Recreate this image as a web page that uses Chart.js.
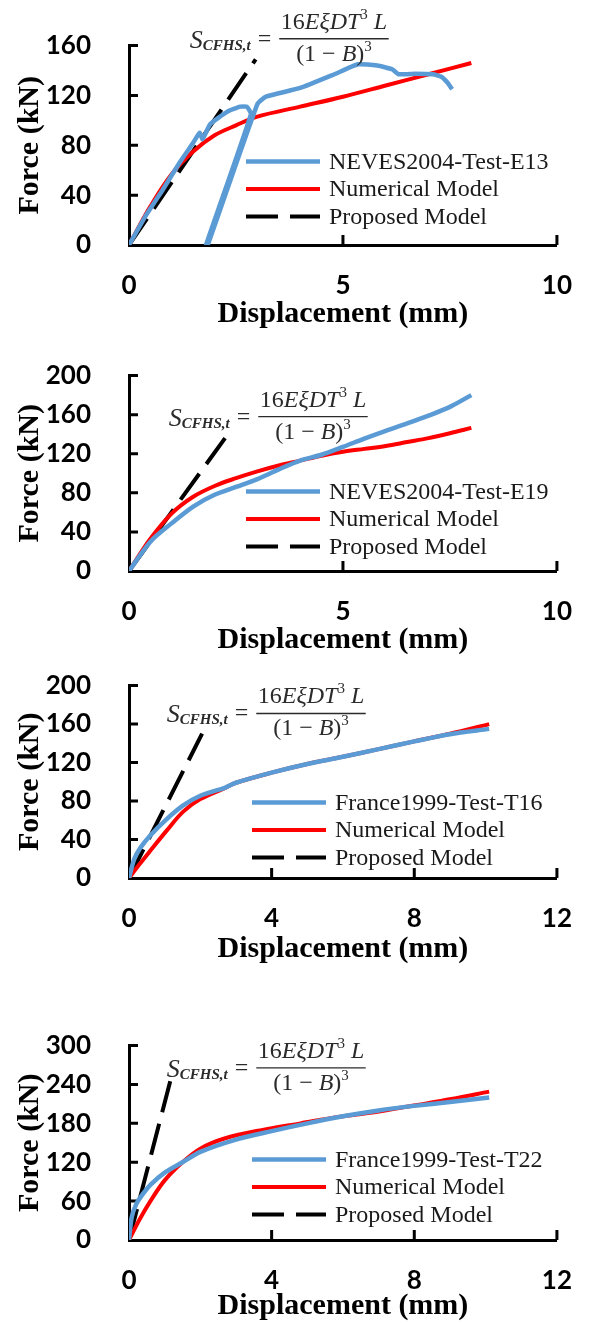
<!DOCTYPE html>
<html>
<head>
<meta charset="utf-8">
<script src="https://cdn.jsdelivr.net/npm/chart.js@4.4.0/dist/chart.umd.min.js"></script>
<style>
    body { margin: 0; background: #fff; width: 589px; height: 1327px; position: relative; overflow: hidden; }
    .painel { position: absolute; left: 0; width: 589px; }
</style>
</head>
<body>
<div class="painel" id="p1"><canvas id="c1"></canvas></div>
<div class="painel" id="p2"><canvas id="c2"></canvas></div>
<div class="painel" id="p3"><canvas id="c3"></canvas></div>
<div class="painel" id="p4"><canvas id="c4"></canvas></div>
<script>
// --- Dados ---
// Painel 1: NEVES2004 - E13
const e13X = [0, 0.4, 0.8, 1.2, 1.5, 1.65, 1.72, 1.9, 2.3, 2.6, 2.75, 2.85, 1.8, 1.84, 3.0, 3.2, 4.0, 4.8, 5.35, 5.8, 6.15, 6.3, 6.7, 7.1, 7.3, 7.45, 7.55];
const e13Y = [0, 24, 45, 67, 82, 90, 85, 97, 107, 111, 111, 105, 0, 0, 113, 119, 126, 137, 145, 144, 141, 137, 137.5, 137, 135, 130, 125];
const num1X = [0, 0.5, 1, 1.5, 2, 2.5, 3, 4, 5, 6, 7, 8];
const num1Y = [0, 31, 57, 75, 88, 96, 103, 111, 119, 128, 137, 146];
const prop1X = [0, 2.96];
const prop1Y = [0, 149];

// Painel 2: NEVES2004 - E19
const e19X = [0, 0.5, 1, 1.5, 2, 2.5, 3, 3.5, 4, 4.5, 5, 5.5, 6, 6.5, 7, 7.5, 8];
const e19Y = [0, 30, 49, 66, 78, 86, 94, 104, 113, 119, 127, 135.5, 143.5, 151, 159, 168, 180];
const num2X = [0, 0.5, 1, 1.5, 2, 2.5, 3, 3.5, 4, 4.5, 5, 5.5, 6, 6.5, 7, 7.5, 8];
const num2Y = [0, 33, 59, 76, 87, 95, 102, 108, 113, 118, 122, 125, 128, 132, 136, 141, 146.5];
const prop2X = [0, 2.36];
const prop2Y = [0, 143];

// Painel 3: France1999 - T16
const t16X = [0, 0.15, 0.31, 0.59, 1.05, 1.52, 2, 2.7, 3, 4, 5, 6, 7, 8, 9, 10.1];
const t16Y = [0, 20, 31, 44, 61, 75.5, 85.5, 94, 99, 109.5, 118.5, 126, 134, 142, 149.5, 155];
const num3X = [0, 0.31, 0.59, 1.05, 1.52, 2, 2.7, 3, 4, 5, 6, 7, 8, 9, 10.1];
const num3Y = [0, 15, 28, 49, 69, 82, 93.7, 99, 109.5, 118.5, 126, 134, 142, 150, 160];
const prop3X = [0, 2.05];
const prop3Y = [0, 150];

// Painel 4: France1999 - T22
const t22X = [0, 0.075, 0.2, 0.35, 0.6, 1.0, 1.5, 2, 3, 4, 5, 6, 7, 8, 9, 10.1];
const t22Y = [0, 35, 55, 68, 85, 104, 120, 136, 155, 168, 180, 191, 200, 207, 213, 220];
const num4X = [0, 0.3, 0.6, 1.0, 1.5, 2, 2.7, 3.75, 4.81, 5.87, 6.92, 7.98, 9.04, 10.1];
const num4Y = [0, 32, 60, 92, 120, 141, 157, 170, 180, 190, 197.5, 207.5, 217.5, 229];
const prop4X = [0, 1.18];
const prop4Y = [0, 250];

const BLUE = '#5B9BD5';
const RED = '#FF0000';
const SERIF = '"Liberation Serif", "Times New Roman", serif';

function pts(xs, ys) {
    return xs.map((x, i) => ({ x: x, y: ys[i] }));
}

// Marcas dos eixos voltadas para dentro
const ticksInternos = {
    id: 'ticksInternos',
    beforeDatasetsDraw(chart) {
        const { ctx } = chart;
        const sx = chart.scales.x, sy = chart.scales.y;
        ctx.save();
        ctx.strokeStyle = '#000';
        ctx.lineWidth = 3;
        ctx.beginPath();
        sx.ticks.forEach(t => {
            if (t.value === sx.min) return;
            const px = sx.getPixelForValue(t.value);
            ctx.moveTo(px, sx.top);
            ctx.lineTo(px, sx.top - 10);
        });
        sy.ticks.forEach(t => {
            if (t.value === sy.min) return;
            const py = sy.getPixelForValue(t.value);
            ctx.moveTo(sy.right, py);
            ctx.lineTo(sy.right + 9, py);
        });
        ctx.stroke();
        ctx.restore();
    }
};

// Legenda dentro da área do gráfico
const legendaInterna = {
    id: 'legendaInterna',
    afterDatasetsDraw(chart, args, opts) {
        const { ctx, chartArea } = chart;
        const x0 = chartArea.left + opts.offX;
        let yy = chartArea.top + opts.offY;
        ctx.save();
        chart.data.datasets.forEach(ds => {
            ctx.beginPath();
            ctx.strokeStyle = ds.borderColor;
            ctx.lineWidth = ds.borderWidth;
            ctx.setLineDash(ds.borderDash || []);
            ctx.moveTo(x0, yy);
            ctx.lineTo(x0 + 74, yy);
            ctx.stroke();
            ctx.setLineDash([]);
            ctx.fillStyle = '#1a1a1a';
            ctx.font = '24px ' + SERIF;
            ctx.textAlign = 'left';
            ctx.textBaseline = 'middle';
            ctx.fillText(ds.label, x0 + 83, yy + 1);
            yy += 27.5;
        });
        ctx.restore();
    }
};

function larguraTrecho(ctx, partes) {
    let w = 0;
    partes.forEach(p => { ctx.font = p[1]; w += ctx.measureText(p[0]).width; });
    return w;
}

function desenhaTrecho(ctx, partes, x, base) {
    partes.forEach(p => {
        ctx.font = p[1];
        ctx.fillText(p[0], x, base + (p[2] || 0));
        x += ctx.measureText(p[0]).width;
    });
    return x;
}

// Fórmula da rigidez (S = 16EξDT³L / (1 − B)³)
const formula = {
    id: 'formula',
    afterDraw(chart, args, opts) {
        const { ctx } = chart;
        const x0 = chart.scales.x.getPixelForValue(opts.x);
        const yb = chart.scales.y.getPixelForValue(opts.y);
        const it = s => 'italic ' + s + 'px ' + SERIF;
        const rm = s => s + 'px ' + SERIF;
        ctx.save();
        ctx.fillStyle = '#2b2b2b';
        ctx.strokeStyle = '#2b2b2b';
        ctx.textAlign = 'left';
        ctx.textBaseline = 'alphabetic';

        let cx = desenhaTrecho(ctx, [['S', it(26)]], x0, yb + 9);
        cx = desenhaTrecho(ctx, [['CFHS,t', 'italic bold 15px ' + SERIF]], cx, yb + 11);
        cx = desenhaTrecho(ctx, [['=', rm(24)]], cx + 7, yb + 7);
        const fx = cx + 8;

        const num = [['16', rm(24)], ['EξDT', it(24)], ['3', rm(15), -10], [' L', it(24)]];
        const den = [['(1 − ', rm(24)], ['B', it(24)], [')', rm(24)], ['3', rm(15), -10]];
        const wn = larguraTrecho(ctx, num);
        const wd = larguraTrecho(ctx, den);
        const wb = Math.max(wn, wd) + 3;
        desenhaTrecho(ctx, num, fx + (wb - wn) / 2, yb - 10);
        desenhaTrecho(ctx, den, fx + (wb - wd) / 2, yb + 22);
        ctx.lineWidth = 1.3;
        ctx.beginPath();
        ctx.moveTo(fx, yb);
        ctx.lineTo(fx + wb, yb);
        ctx.stroke();
        ctx.restore();
    }
};

function criarPainel(id, cfg) {
    const box = document.getElementById('p' + id);
    box.style.top = cfg.top + 'px';
    box.style.height = (cfg.padTop + cfg.plotH + cfg.xAxisH) + 'px';

    const tickFont = { family: 'Lato', size: 26, weight: 'bold' };
    const titleFont = { family: SERIF, size: 30, weight: 'bold' };

    return new Chart(document.getElementById('c' + id), {
        type: 'line',
        data: {
            datasets: [
                { label: cfg.testeLabel, data: pts(cfg.testeX, cfg.testeY), borderColor: BLUE, borderWidth: 4.5, tension: cfg.testeTension },
                { label: 'Numerical Model', data: pts(cfg.numX, cfg.numY), borderColor: RED, borderWidth: 4, tension: 0.35 },
                { label: 'Proposed Model', data: pts(cfg.propX, cfg.propY), borderColor: '#000', borderWidth: 4, borderDash: [32, 12], tension: 0 }
            ]
        },
        options: {
            responsive: true,
            maintainAspectRatio: false,
            animation: false,
            elements: { point: { radius: 0 }, line: { fill: false, borderJoinStyle: 'round' } },
            layout: { padding: { top: cfg.padTop, right: 31, left: 0, bottom: 0 } },
            plugins: {
                legend: { display: false },
                tooltip: { enabled: false },
                legendaInterna: { offX: cfg.legX, offY: cfg.legY },
                formula: { x: cfg.formX, y: cfg.formY }
            },
            scales: {
                x: {
                    type: 'linear',
                    min: 0,
                    max: cfg.xMax,
                    grid: { display: false },
                    border: { color: '#000', width: 3 },
                    ticks: { stepSize: cfg.xStep, padding: 17, color: '#000', font: tickFont, maxRotation: 0 },
                    title: { display: true, text: 'Displacement (mm)', color: '#000', font: titleFont, padding: { top: 0, bottom: 3 } },
                    afterFit: s => { s.height = cfg.xAxisH; }
                },
                y: {
                    min: 0,
                    max: cfg.yMax,
                    grid: { display: false },
                    border: { color: '#000', width: 3 },
                    ticks: { stepSize: cfg.yStep, padding: 30, color: '#000', font: tickFont },
                    title: { display: true, text: 'Force (kN)', color: '#000', font: titleFont, padding: { top: 12, bottom: 0 } },
                    afterFit: s => { s.width = 129; }
                }
            }
        },
        plugins: [ticksInternos, legendaInterna, formula]
    });
}

criarPainel(1, {
    top: 0, padTop: 42, plotH: 203, xAxisH: 90,
    xMax: 10, xStep: 5, yMax: 160, yStep: 40,
    testeLabel: 'NEVES2004-Test-E13', testeX: e13X, testeY: e13Y, testeTension: 0.15,
    numX: num1X, numY: num1Y, propX: prop1X, propY: prop1Y,
    legX: 117, legY: 116, formX: 1.42, formY: 165.5
});

criarPainel(2, {
    top: 330, padTop: 39, plotH: 202, xAxisH: 90,
    xMax: 10, xStep: 5, yMax: 200, yStep: 40,
    testeLabel: 'NEVES2004-Test-E19', testeX: e19X, testeY: e19Y, testeTension: 0.3,
    numX: num2X, numY: num2Y, propX: prop2X, propY: prop2Y,
    legX: 117, legY: 116, formX: 0.93, formY: 158
});

criarPainel(3, {
    top: 640, padTop: 36, plotH: 202, xAxisH: 92,
    xMax: 12, xStep: 4, yMax: 200, yStep: 40,
    testeLabel: 'France1999-Test-T16', testeX: t16X, testeY: t16Y, testeTension: 0.3,
    numX: num3X, numY: num3Y, propX: prop3X, propY: prop3Y,
    legX: 123, legY: 117, formX: 1.06, formY: 171
});

criarPainel(4, {
    top: 1000, padTop: 40, plotH: 200, xAxisH: 87,
    xMax: 12, xStep: 4, yMax: 300, yStep: 60,
    testeLabel: 'France1999-Test-T22', testeX: t22X, testeY: t22Y, testeTension: 0.3,
    numX: num4X, numY: num4Y, propX: prop4X, propY: prop4Y,
    legX: 123, legY: 114, formX: 1.06, formY: 265.5
});
</script>
</body>
</html>
